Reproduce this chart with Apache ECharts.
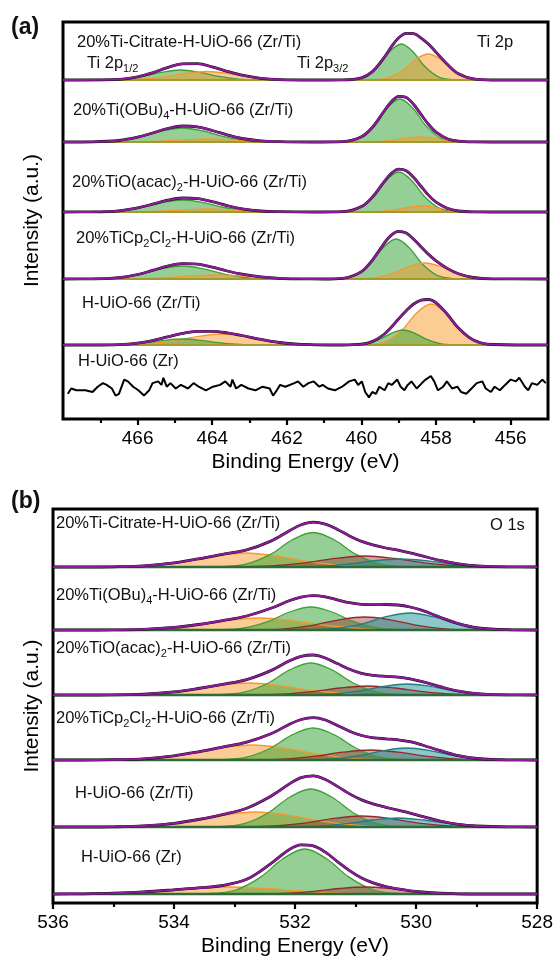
<!DOCTYPE html>
<html><head><meta charset="utf-8">
<script src="https://cdn.jsdelivr.net/npm/echarts@6/dist/echarts.min.js"></script>
<style>html,body{margin:0;padding:0;background:#fff}#c{width:556px;height:964px}</style>
</head><body><div id="c"></div>
<script>
// ---------- Panel (a): Ti 2p ----------
const tiTicks = [456, 458, 460, 462, 464, 466];
const tiMinorTicks = [457, 459, 461, 463, 465, 467];
const tiLabels = ['20%Ti-Citrate-H-UiO-66 (Zr/Ti)', '20%Ti(OBu){s|4}-H-UiO-66 (Zr/Ti)', '20%TiO(acac){s|2}-H-UiO-66 (Zr/Ti)', '20%TiCp{s|2}Cl{s|2}-H-UiO-66 (Zr/Ti)', 'H-UiO-66 (Zr/Ti)', 'H-UiO-66 (Zr)'];
const tiOffsets = [339, 277, 207, 140, 74, 31];

const a1G3 = [[457.58,0.4],[457.94,3.2],[458.30,13.5],[458.62,28.2],[458.93,36],[459.25,28.2],[459.56,13.5],[459.92,3.2],[460.28,0.4]];
const a1O3 = [[456.77,0.3],[457.15,2.3],[457.54,9.8],[457.87,20.4],[458.21,26],[458.55,20.4],[458.88,9.8],[459.27,2.3],[459.65,0.3]];
const a1G1 = [[462.75,0.1],[463.31,0.9],[463.87,3.8],[464.36,7.8],[464.85,10],[465.34,7.8],[465.83,3.8],[466.39,0.9],[466.95,0.1]];
const a1O1 = [[461.75,0.1],[462.39,0.8],[463.03,3.2],[463.59,6.7],[464.15,8.5],[464.71,6.7],[465.27,3.2],[465.91,0.8],[466.55,0.1]];
const a1Env = [[468,0],[466.5,0.7],[466.0,3.2],[465.6,7.2],[465.2,12.4],[464.8,16.1],[464.4,16.3],[464.0,13.1],[463.6,8.7],[463.2,4.8],[462.7,1.7],[462.2,0.4],[461.3,0],[460.5,0.1],[460.0,2.1],[459.7,8.6],[459.4,22.1],[459.2,33.2],[459.0,42.2],[458.8,46.7],[458.6,46.3],[458.4,41.9],[458.2,35.7],[458.0,27.8],[457.7,15.7],[457.4,6.2],[457.0,1.1],[456.5,0],[455,0]];

const a2G3 = [[457.47,0.5],[457.87,3.8],[458.27,16.1],[458.62,33.7],[458.97,43],[459.32,33.7],[459.67,16.1],[460.07,3.8],[460.47,0.5]];
const a2O3 = [[456.95,0.1],[457.35,0.4],[457.75,1.9],[458.10,3.9],[458.45,5],[458.80,3.9],[459.15,1.9],[459.55,0.4],[459.95,0.1]];
const a2G1 = [[462.4,0.2],[463.04,1.2],[463.68,5.3],[464.24,11.0],[464.8,14],[465.36,11.0],[465.92,5.3],[466.56,1.2],[467.2,0.2]];
const a2O1 = [[461.7,0],[462.34,0.3],[462.98,1.1],[463.54,2.3],[464.1,3],[464.66,2.3],[465.22,1.1],[465.86,0.3],[466.5,0]];
const a2Env = [[468,0],[467.2,0.2],[466.5,1.5],[466.0,4.8],[465.6,9.0],[465.2,13.5],[464.8,16.0],[464.4,15.1],[464.0,11.5],[463.6,7.1],[463.2,3.5],[462.7,1.1],[462.2,0.3],[461.3,0],[460.5,0.4],[460.0,5.2],[459.7,15.0],[459.4,30.5],[459.2,40.3],[459.0,45.7],[458.8,44.5],[458.6,37.5],[458.4,27.4],[458.2,17.5],[458.0,9.8],[457.7,3.3],[457.4,0.9],[457.0,0.1],[456.5,0],[455,0]];

const a3G3 = [[457.5,0.4],[457.9,3.6],[458.3,15.0],[458.65,31.3],[459.0,40],[459.35,31.3],[459.7,15.0],[460.1,3.6],[460.5,0.4]];
const a3O3 = [[456.9,0.1],[457.3,0.5],[457.7,2.3],[458.05,4.7],[458.4,6],[458.75,4.7],[459.1,2.3],[459.5,0.5],[459.9,0.1]];
const a3G1 = [[462.4,0.1],[463.04,1.1],[463.68,4.5],[464.24,9.4],[464.8,12],[465.36,9.4],[465.92,4.5],[466.56,1.1],[467.2,0.1]];
const a3O1 = [[461.7,0],[462.34,0.3],[462.98,1.1],[463.54,2.3],[464.1,3],[464.66,2.3],[465.22,1.1],[465.86,0.3],[466.5,0]];
const a3Env = [[468,0],[467.2,0.1],[466.5,1.2],[466.0,4.1],[465.6,7.8],[465.2,11.8],[464.8,14.0],[464.4,13.4],[464.0,10.3],[463.6,6.4],[463.2,3.2],[462.7,1.0],[462.2,0.3],[461.3,0],[460.5,0.4],[460.0,5.4],[459.7,15.2],[459.4,29.8],[459.2,38.6],[459.0,42.9],[458.8,41.3],[458.6,34.5],[458.4,25.5],[458.2,16.6],[458.0,9.8],[457.7,3.7],[457.4,1.0],[457.0,0.1],[456.5,0],[455,0]];

const a4G3 = [[457.57,0.4],[457.97,3.6],[458.37,15.0],[458.72,31.3],[459.07,40],[459.42,31.3],[459.77,15.0],[460.17,3.6],[460.57,0.4]];
const a4O3 = [[456.5,0.2],[456.98,1.4],[457.46,6.0],[457.88,12.5],[458.3,16],[458.72,12.5],[459.14,6.0],[459.62,1.4],[460.1,0.2]];
const a4G1 = [[462.4,0.1],[463.04,1.2],[463.68,4.9],[464.24,10.2],[464.8,13],[465.36,10.2],[465.92,4.9],[466.56,1.2],[467.2,0.1]];
const a4O1 = [[461.2,0],[461.92,0.4],[462.64,1.5],[463.27,3.1],[463.9,4],[464.53,3.1],[465.16,1.5],[465.88,0.4],[466.6,0]];
const a4Env = [[468,0],[467.2,0.1],[466.5,1.4],[466.0,4.5],[465.6,8.6],[465.2,12.9],[464.8,15.4],[464.4,14.9],[464.0,11.9],[463.6,8.0],[463.2,4.8],[462.7,2.1],[462.2,0.7],[461.7,0.2],[461.0,0],[460.5,0.7],[460.0,7.4],[459.7,19.2],[459.4,35.2],[459.2,43.9],[459.0,47.7],[458.8,45.9],[458.6,39.8],[458.4,32.1],[458.2,24.6],[458.0,18.1],[457.7,10.6],[457.4,5.2],[457.0,1.5],[456.5,0.2],[455,0]];

const a5O3 = [[456.48,0.5],[456.92,3.6],[457.36,15.4],[457.75,32.1],[458.13,41],[458.52,32.1],[458.9,15.4],[459.34,3.6],[459.78,0.5]];
const a5G3 = [[457.53,0.2],[457.89,1.3],[458.25,5.6],[458.57,11.7],[458.88,15],[459.2,11.7],[459.51,5.6],[459.87,1.3],[460.23,0.2]];
const a5O1 = [[461.05,0.1],[461.77,1.0],[462.49,4.1],[463.12,8.6],[463.75,11],[464.38,8.6],[465.01,4.1],[465.73,1.0],[466.45,0.1]];
const a5G1 = [[462.7,0.1],[463.26,0.5],[463.82,2.3],[464.31,4.7],[464.8,6],[465.29,4.7],[465.78,2.3],[466.34,0.5],[466.9,0.1]];
const a5Env = [[468,0],[467.2,0],[466.5,0.4],[466.0,1.9],[465.6,4.4],[465.2,8.1],[464.8,11.6],[464.4,13.6],[464.0,13.7],[463.6,12.2],[463.2,9.5],[462.7,5.6],[462.2,2.5],[461.7,0.8],[461.2,0.2],[460.5,0],[460.0,0.8],[459.7,3.6],[459.4,10.5],[459.2,17.8],[459.0,26.3],[458.8,34.3],[458.6,41.0],[458.4,44.9],[458.2,45.5],[458.0,42.1],[457.7,30.8],[457.4,17.0],[457.0,5.0],[456.5,0.5],[455,0]];

const a6Raw = [[467.87,-5.8],[467.78,-0.5],[467.64,-2.3],[467.40,-2.3],[467.21,-4.0],[467.07,1.3],[466.93,4.9],[466.83,3.1],[466.69,-0.5],[466.59,-7.6],[466.50,-5.8],[466.36,8.4],[466.26,6.6],[466.12,1.3],[465.98,-2.3],[465.83,-7.6],[465.69,-2.3],[465.60,4.9],[465.45,6.6],[465.36,3.1],[465.31,10.2],[465.22,1.3],[465.12,4.9],[464.98,-0.5],[464.84,3.1],[464.65,-0.5],[464.50,4.9],[464.36,1.3],[464.17,-2.3],[463.98,1.3],[463.79,3.1],[463.65,6.6],[463.51,1.3],[463.46,8.4],[463.36,-0.5],[463.22,3.1],[463.03,-0.5],[462.84,-2.3],[462.65,1.3],[462.46,-0.5],[462.37,-7.6],[462.27,-2.3],[462.18,3.1],[462.04,1.3],[461.80,4.9],[461.70,6.6],[461.56,1.3],[461.42,4.9],[461.28,6.6],[461.13,1.3],[461.04,3.1],[460.90,-0.5],[460.71,-2.3],[460.52,1.3],[460.33,6.6],[460.18,8.4],[460.09,3.1],[459.99,6.6],[459.90,-4.0],[459.80,-9.4],[459.71,-4.0],[459.61,-5.8],[459.52,1.3],[459.38,-2.3],[459.28,4.9],[459.19,3.1],[459.04,8.4],[458.95,1.3],[458.85,-2.3],[458.76,3.1],[458.66,6.6],[458.52,-0.5],[458.38,4.9],[458.28,8.4],[458.14,12.0],[458.05,6.6],[457.95,-2.3],[457.81,1.3],[457.71,6.6],[457.57,-0.5],[457.43,1.3],[457.33,-4.0],[457.19,-5.8],[457.05,-0.5],[456.91,4.9],[456.76,6.6],[456.67,-0.5],[456.53,-4.0],[456.43,1.3],[456.29,-2.3],[456.15,3.1],[456.00,8.4],[455.86,6.6],[455.77,10.2],[455.62,1.3],[455.53,-2.3],[455.43,4.9],[455.29,3.1],[455.15,8.4],[455.06,4.9]];

// ---------- Panel (b): O 1s ----------
const oTicks = [528, 530, 532, 534, 536];
const oMinorTicks = [529, 531, 533, 535];
const oLabels = tiLabels;
const oOffsets = [336, 273, 208, 143, 76, 9];

const b1G = [[530.2,0.4],[530.6,3.1],[531.0,12.9],[531.35,27.0],[531.7,34.5],[532.05,27.0],[532.4,12.9],[532.8,3.1],[533.2,0.4]];
const b1O = [[530.57,0.2],[531.17,1.2],[531.77,5.3],[532.3,11.0],[532.82,14],[533.35,11.0],[533.87,5.3],[534.47,1.2],[535.07,0.2]];
const b1R = [[528.75,0.1],[529.31,1.0],[529.87,4.1],[530.36,8.6],[530.85,11],[531.34,8.6],[531.83,4.1],[532.39,1.0],[532.95,0.1]];
const b1T = [[528.46,0.1],[528.94,0.7],[529.42,3.0],[529.84,6.3],[530.26,8],[530.68,6.3],[531.1,3.0],[531.58,0.7],[532.06,0.1]];
const b1Env = [[536,0],[535.5,0],[535.0,0.2],[534.5,1.1],[534.0,4.1],[533.6,8.1],[533.2,12.7],[532.8,17.1],[532.4,25.9],[532.1,36.0],[531.9,42.2],[531.7,44.8],[531.5,42.8],[531.3,37.6],[531.1,31.1],[530.9,25.6],[530.7,21.8],[530.5,19.0],[530.3,16.8],[530.1,14.1],[529.9,11.1],[529.6,6.6],[529.3,3.2],[529.0,1.2],[528.5,0.1],[528,0]];

const b2G = [[530.24,0.3],[530.64,2.0],[531.04,8.6],[531.39,18.0],[531.74,23],[532.09,18.0],[532.44,8.6],[532.84,2.0],[533.24,0.3]];
const b2O = [[530.2,0.1],[530.84,1.1],[531.48,4.5],[532.04,9.4],[532.6,12],[533.16,9.4],[533.72,4.5],[534.36,1.1],[535.0,0.1]];
const b2R = [[529.05,0.1],[529.53,1.2],[530.01,4.9],[530.43,10.2],[530.85,13],[531.27,10.2],[531.69,4.9],[532.17,1.2],[532.65,0.1]];
const b2T = [[528.45,0.2],[528.89,1.5],[529.33,6.4],[529.72,13.3],[530.1,17],[530.49,13.3],[530.87,6.4],[531.31,1.5],[531.75,0.2]];
const b2Env = [[536,0],[535.5,0],[535.0,0.1],[534.5,0.7],[534.0,2.6],[533.6,5.5],[533.2,9.4],[532.8,14.0],[532.4,21.7],[532.1,29.2],[531.9,32.9],[531.7,34.4],[531.5,33.2],[531.3,30.2],[531.1,27.3],[530.9,25.7],[530.7,25.3],[530.5,25.5],[530.3,25.0],[530.1,23.0],[529.9,19.6],[529.6,12.7],[529.3,6.4],[529.0,2.3],[528.5,0.3],[528,0]];

const b3G = [[530.24,0.4],[530.64,2.8],[531.04,12.0],[531.39,25.1],[531.74,32],[532.09,25.1],[532.44,12.0],[532.84,2.8],[533.24,0.4]];
const b3O = [[530.52,0.1],[531.12,1.1],[531.72,4.5],[532.25,9.4],[532.77,12],[533.3,9.4],[533.82,4.5],[534.42,1.1],[535.02,0.1]];
const b3R = [[528.85,0.1],[529.37,0.8],[529.89,3.4],[530.35,7.0],[530.8,9],[531.26,7.0],[531.71,3.4],[532.23,0.8],[532.75,0.1]];
const b3T = [[528.5,0.1],[528.94,1.0],[529.38,4.1],[529.77,8.6],[530.15,11],[530.54,8.6],[530.92,4.1],[531.36,1.0],[531.8,0.1]];
const b3Env = [[536,0],[535.5,0],[535.0,0.1],[534.5,0.8],[534.0,3.1],[533.6,6.5],[533.2,10.6],[532.8,15.4],[532.4,24.4],[532.1,34.0],[531.9,38.7],[531.7,40.0],[531.5,37.0],[531.3,31.4],[531.1,25.7],[530.9,21.6],[530.7,19.6],[530.5,18.6],[530.3,17.9],[530.1,16.2],[529.9,13.4],[529.6,8.3],[529.3,3.9],[529.0,1.4],[528.5,0.1],[528,0]];

const b4G = [[530.2,0.4],[530.6,2.8],[531.0,12.0],[531.35,25.1],[531.7,32],[532.05,25.1],[532.4,12.0],[532.8,2.8],[533.2,0.4]];
const b4O = [[530.32,0.2],[530.96,1.3],[531.6,5.6],[532.16,11.7],[532.72,15],[533.28,11.7],[533.84,5.6],[534.48,1.3],[535.12,0.2]];
const b4R = [[528.8,0.1],[529.32,0.9],[529.84,3.8],[530.3,7.8],[530.75,10],[531.21,7.8],[531.66,3.8],[532.18,0.9],[532.7,0.1]];
const b4T = [[528.5,0.1],[528.94,1.1],[529.38,4.5],[529.77,9.4],[530.15,12],[530.54,9.4],[530.92,4.5],[531.36,1.1],[531.8,0.1]];
const b4Env = [[536,0],[535.5,0],[535.0,0.3],[534.5,1.2],[534.0,4.2],[533.6,8.2],[533.2,12.9],[532.8,17.8],[532.4,26.2],[532.1,35.5],[531.9,40.5],[531.7,42.3],[531.5,40.0],[531.3,34.6],[531.1,28.8],[530.9,24.5],[530.7,22.2],[530.5,21.2],[530.3,20.2],[530.1,18.3],[529.9,15.0],[529.6,9.4],[529.3,4.4],[529.0,1.5],[528.5,0.1],[528,0]];

const b5G = [[530.24,0.4],[530.64,3.4],[531.04,14.3],[531.39,29.8],[531.74,38],[532.09,29.8],[532.44,14.3],[532.84,3.4],[533.24,0.4]];
const b5O = [[530.26,0.2],[530.9,1.3],[531.54,5.6],[532.1,11.7],[532.66,15],[533.22,11.7],[533.78,5.6],[534.42,1.3],[535.06,0.2]];
const b5R = [[528.95,0.1],[529.47,1.0],[529.99,4.1],[530.45,8.6],[530.9,11],[531.36,8.6],[531.81,4.1],[532.33,1.0],[532.85,0.1]];
const b5T = [[528.5,0.1],[528.98,0.8],[529.46,3.4],[529.88,7.0],[530.3,9],[530.72,7.0],[531.14,3.4],[531.62,0.8],[532.1,0.1]];
const b5Env = [[536,0],[535.5,0],[535.0,0.2],[534.5,1.1],[534.0,3.7],[533.6,7.5],[533.2,12.4],[532.8,18.8],[532.4,30.8],[532.1,42.9],[531.9,49.4],[531.7,51.1],[531.5,47.5],[531.3,40.6],[531.1,33.1],[530.9,27.1],[530.7,22.8],[530.5,19.7],[530.3,16.8],[530.1,13.9],[529.9,10.6],[529.6,6.0],[529.3,2.7],[529.0,1.0],[528.5,0.1],[528,0]];

const b6G = [[530.28,0.5],[530.7,4.0],[531.11,16.9],[531.48,35.2],[531.84,45],[532.2,35.2],[532.57,16.9],[532.98,4.0],[533.4,0.5]];
const b6O = [[530.4,0.1],[531.12,0.6],[531.84,2.6],[532.47,5.5],[533.1,7],[533.73,5.5],[534.36,2.6],[535.08,0.6],[535.8,0.1]];
const b6R = [[529.05,0.1],[529.53,0.6],[530.01,2.6],[530.43,5.5],[530.85,7],[531.27,5.5],[531.69,2.6],[532.17,0.6],[532.65,0.1]];
const b6Env = [[536,0],[535.5,0.2],[535.0,0.8],[534.5,2.1],[534.0,4.2],[533.6,6.1],[533.2,8.5],[532.8,14.7],[532.4,30.4],[532.1,44.3],[531.9,49.1],[531.7,48.1],[531.5,41.8],[531.3,32.4],[531.1,23.4],[530.9,16.0],[530.7,10.9],[530.5,7.5],[530.3,5.1],[530.1,3.2],[529.9,2.0],[529.6,0.8],[529.3,0.2],[529.0,0],[528,0]];

// ---------- build ----------
const FONT = '"Liberation Sans", Arial, sans-serif';
const STY = {
  g: {fill: 'rgba(45,160,45,0.72)', line: '#3f9e37'},
  o: {fill: 'rgba(246,150,35,0.70)', line: '#f29a30'},
  r: {fill: 'rgba(150,35,35,0.58)', line: '#922a2a'},
  t: {fill: 'rgba(20,140,145,0.70)', line: '#1f7d80'}
};
function shift(d, off) { return d.map(p => [p[0], p[1] + off]); }
const series = [];
function comp(xi, yi, d, off, k) {
  series.push({type: 'line', xAxisIndex: xi, yAxisIndex: yi, data: shift(d, off), smooth: 0.35,
    symbol: 'none', silent: true, lineStyle: {color: STY[k].line, width: 1.3},
    areaStyle: {color: STY[k].fill, origin: off}});
}
function base(xi, yi, lo, hi, off, color, w) {
  series.push({type: 'line', xAxisIndex: xi, yAxisIndex: yi, data: [[lo, off], [hi, off]],
    symbol: 'none', silent: true, lineStyle: {color: color, width: w}});
}
function env(xi, yi, d, off) {
  series.push({type: 'line', xAxisIndex: xi, yAxisIndex: yi, data: shift(d, off), smooth: 0.35,
    symbol: 'none', silent: true, lineStyle: {color: '#111', width: 2.8}});
  series.push({type: 'line', xAxisIndex: xi, yAxisIndex: yi, data: shift(d, off), smooth: 0.35,
    symbol: 'none', silent: true, lineStyle: {color: '#8c1a9a', width: 2.1}});
}
const tiComps = [
  [[a1G3,'g'],[a1O3,'o'],[a1G1,'g'],[a1O1,'o'], a1Env],
  [[a2G3,'g'],[a2O3,'o'],[a2G1,'g'],[a2O1,'o'], a2Env],
  [[a3G3,'g'],[a3O3,'o'],[a3G1,'g'],[a3O1,'o'], a3Env],
  [[a4G3,'g'],[a4O3,'o'],[a4G1,'g'],[a4O1,'o'], a4Env],
  [[a5O3,'o'],[a5G3,'g'],[a5O1,'o'],[a5G1,'g'], a5Env]
];
tiComps.forEach((s, i) => {
  const off = tiOffsets[i];
  s.slice(0, 4).forEach(c => comp(0, 0, c[0], off, c[1]));
  base(0, 0, 455, 468, off, '#a39a2e', 2);
  env(0, 0, s[4], off);
});
series.push({type: 'line', xAxisIndex: 0, yAxisIndex: 0, data: shift(a6Raw, tiOffsets[5]),
  symbol: 'none', silent: true, lineStyle: {color: '#000', width: 2}});

const oComps = [
  [[b1O,'o'],[b1G,'g'],[b1R,'r'],[b1T,'t'], b1Env],
  [[b2O,'o'],[b2G,'g'],[b2R,'r'],[b2T,'t'], b2Env],
  [[b3O,'o'],[b3G,'g'],[b3R,'r'],[b3T,'t'], b3Env],
  [[b4O,'o'],[b4G,'g'],[b4R,'r'],[b4T,'t'], b4Env],
  [[b5O,'o'],[b5G,'g'],[b5R,'r'],[b5T,'t'], b5Env],
  [[b6O,'o'],[b6G,'g'],[b6R,'r'], b6Env]
];
oComps.forEach((s, i) => {
  const off = oOffsets[i];
  s.slice(0, s.length - 1).forEach(c => comp(2, 1, c[0], off, c[1]));
  base(2, 1, 528, 536, off, '#2f6a38', 2.5);
  env(2, 1, s[s.length - 1], off);
});

function mainX(grid, min, max, ticks) {
  return {type: 'value', gridIndex: grid, min: min, max: max, inverse: true, position: 'bottom',
    axisLine: {show: false}, splitLine: {show: false},
    axisTick: {show: true, inside: false, length: 6, lineStyle: {color: '#000', width: 2.2}, customValues: ticks},
    axisLabel: {show: true, customValues: ticks, color: '#000', fontSize: 19, fontFamily: FONT, margin: 10},
    name: 'Binding Energy (eV)', nameLocation: 'middle', nameGap: 33,
    nameTextStyle: {color: '#000', fontSize: 21, fontFamily: FONT}};
}
function minorX(grid, min, max, ticks) {
  return {type: 'value', gridIndex: grid, min: min, max: max, inverse: true, position: 'bottom',
    axisLine: {show: false}, splitLine: {show: false}, axisLabel: {show: false},
    axisTick: {show: true, inside: false, length: 4, lineStyle: {color: '#000', width: 2.2}, customValues: ticks}};
}
function yAx(grid, max, gap) {
  return {type: 'value', gridIndex: grid, min: 0, max: max, axisLine: {show: false}, axisTick: {show: false},
    axisLabel: {show: false}, splitLine: {show: false},
    name: 'Intensity (a.u.)', nameLocation: 'middle', nameGap: gap,
    nameTextStyle: {color: '#000', fontSize: 21, fontFamily: FONT}};
}

const txt = (x, y, text, size, weight) => ({type: 'text', x: x, y: y, silent: true,
  style: {text: text, fill: '#111', font: (weight || 'normal') + ' ' + size + 'px ' + FONT,
    verticalAlign: 'middle', align: 'left',
    rich: {s: {fontSize: 11, fontFamily: FONT, fill: '#111', padding: [11, 0, 0, 0], lineHeight: 13}}}});

const tiLabelPos = [[77, 42], [73, 110], [72, 182], [76, 238], [82, 303], [78, 361]];
const oLabelPos = [[56, 523], [56, 595], [56, 648], [56, 718], [75, 793], [81, 857]];
const graphics = [];
tiLabels.forEach((t, i) => graphics.push(txt(tiLabelPos[i][0], tiLabelPos[i][1], t, 16.5)));
oLabels.forEach((t, i) => graphics.push(txt(oLabelPos[i][0], oLabelPos[i][1], t, 16.5)));
graphics.push(txt(87, 63, 'Ti 2p{s|1/2}', 16.5));
graphics.push(txt(297, 63, 'Ti 2p{s|3/2}', 16.5));
graphics.push(txt(477, 42, 'Ti 2p', 16.5));
graphics.push(txt(490, 525, 'O 1s', 16.5));
graphics.push(txt(11, 28, '(a)', 23, 'bold'));
graphics.push(txt(11, 502, '(b)', 23, 'bold'));

const chart = echarts.init(document.getElementById('c'), null, {renderer: 'canvas'});
chart.setOption({
  animation: false,
  backgroundColor: '#fff',
  grid: [
    {left: 63, top: 22, width: 485, height: 397, show: true, borderColor: '#000', borderWidth: 3},
    {left: 53, top: 509, width: 488, height: 394, show: true, borderColor: '#000', borderWidth: 3}
  ],
  xAxis: [mainX(0, 455, 468, tiTicks), minorX(0, 455, 468, tiMinorTicks), mainX(1, 528, 536, oTicks), minorX(1, 528, 536, oMinorTicks)],
  yAxis: [yAx(0, 397, 20), yAx(1, 394, 10)],
  series: series,
  graphic: graphics
});
</script></body></html>
